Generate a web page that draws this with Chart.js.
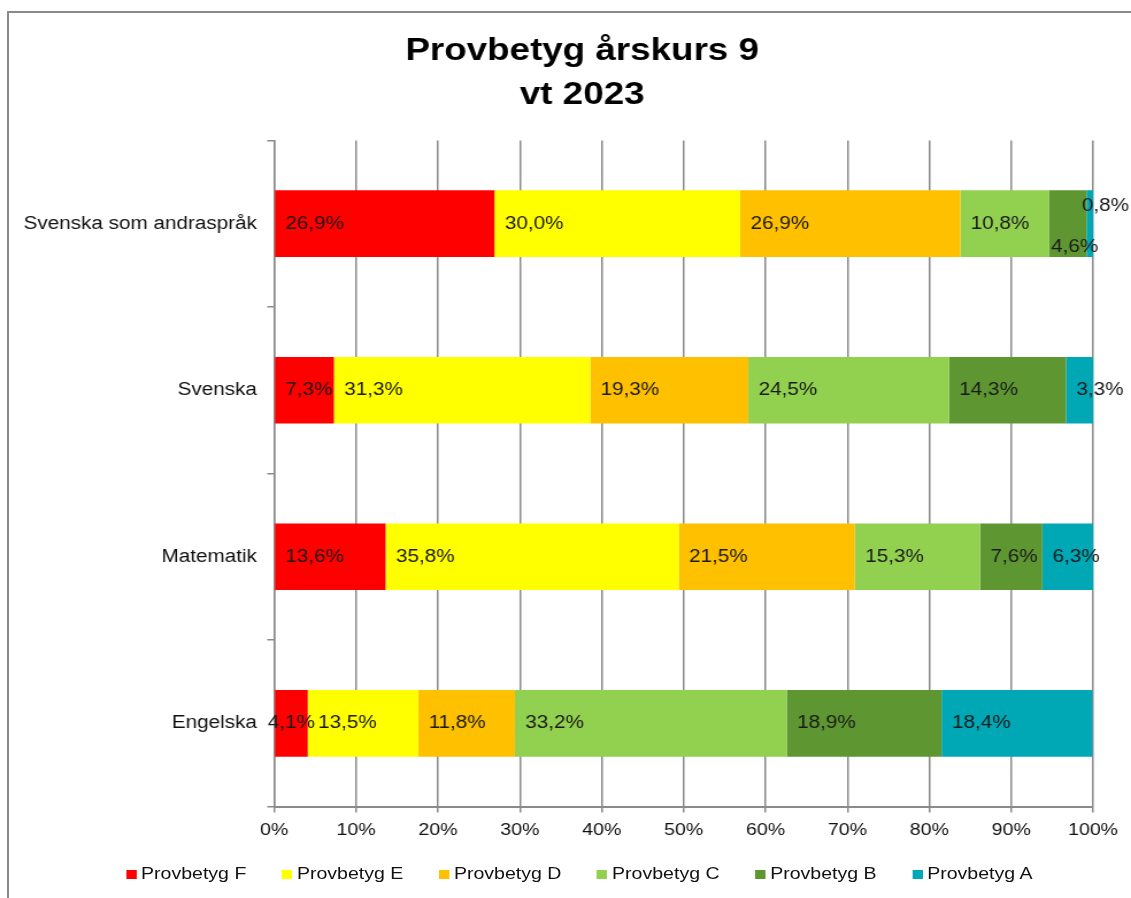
<!DOCTYPE html>
<html lang="sv">
<head>
<meta charset="utf-8">
<title>Provbetyg årskurs 9 vt 2023</title>
<script src="https://cdn.jsdelivr.net/npm/chart.js@4/dist/chart.umd.min.js"></script>
<style>
  html, body { margin: 0; padding: 0; background: #fff; overflow: hidden; }
  #frame {
    position: absolute; left: 7px; top: 11px; width: 1300px; height: 1000px;
    border-left: 2px solid #8a8a8a; border-top: 2px solid #8a8a8a;
  }
  /* the source picture is stretched sideways, so the whole chart is too */
  #wrap {
    position: absolute; left: 0; top: 0; width: 984px; height: 898px;
    transform-origin: 0 0; transform: scaleX(1.1494);
  }
  #chart { display: block; }
  #legend {
    position: absolute; left: 0; top: 864px; width: 984px; box-sizing: border-box;
    padding-left: 24px; display: flex; justify-content: center; gap: 31px;
    font: 17px "Liberation Sans", Arial, sans-serif; color: #111; line-height: 20px;
  }
  .item { display: flex; align-items: center; white-space: nowrap; }
  .swatch { width: 9px; height: 9px; margin-right: 4px; }
</style>
</head>
<body>
<div id="frame"></div>
<div id="wrap">
  <canvas id="chart" width="984" height="898"></canvas>
  <div id="legend"></div>
</div>
<script>
const subjects = ['Svenska som andraspråk', 'Svenska', 'Matematik', 'Engelska'];
const grades = ['Provbetyg F', 'Provbetyg E', 'Provbetyg D', 'Provbetyg C', 'Provbetyg B', 'Provbetyg A'];
const gradeColors = ['#ff0000', '#ffff00', '#ffc000', '#92d050', '#5e9732', '#00a8b6'];

// share of pupils per grade, in %
const gradeF = [26.9, 7.3, 13.6, 4.1];
const gradeE = [30.0, 31.3, 35.8, 13.5];
const gradeD = [26.9, 19.3, 21.5, 11.8];
const gradeC = [10.8, 24.5, 15.3, 33.2];
const gradeB = [4.6, 14.3, 7.6, 18.9];
const gradeA = [0.8, 3.3, 6.3, 18.4];
const series = [gradeF, gradeE, gradeD, gradeC, gradeB, gradeA];

const fontFamily = '"Liberation Sans", Arial, sans-serif';

// value labels, written from the start of each segment like in the source
const barLabels = {
  id: 'barLabels',
  afterDatasetsDraw(chart) {
    const {ctx} = chart;
    const metas = chart.getSortedVisibleDatasetMetas();
    ctx.save();
    ctx.font = '18px ' + fontFamily;
    ctx.fillStyle = '#1a1a1a';
    ctx.textBaseline = 'middle';
    ctx.textAlign = 'left';

    chart.data.labels.forEach((lbl, i) => {
      let prevBelow = false;
      metas.forEach((meta, k) => {
        const bar = meta.data[i];
        const value = chart.data.datasets[meta.index].data[i];
        const text = value.toFixed(1).replace('.', ',') + '%';
        const w = ctx.measureText(text).width;
        const segW = bar.x - bar.base;
        const next = metas[k + 1] && metas[k + 1].data[i];
        const nextNarrow = next && (next.x - next.base) < w;
        let x = bar.base + 9;
        let y = bar.y;

        if (prevBelow) {
          // second of two thin segments: label sits high
          x = bar.base - 4;
          y = bar.y - bar.height * 0.26;
          prevBelow = false;
        } else if (segW < w && nextNarrow) {
          // first of two thin segments: label sits low
          x = bar.base + 2;
          y = bar.y + bar.height * 0.35;
          prevBelow = true;
        } else if (segW < w && k === 0) {
          // thin first segment: centre the label on it
          x = (bar.base + bar.x - w) / 2;
        }
        ctx.fillText(text, x, y);
      });
    });
    ctx.restore();
  }
};

// let the long category names run left past the padding without being clipped
const yLabelRoom = {
  id: 'yLabelRoom',
  afterLayout(chart) {
    chart.scales.y.left = 0;
  }
};

new Chart(document.getElementById('chart'), {
  type: 'bar',
  data: {
    labels: subjects,
    datasets: series.map((values, i) => ({
      label: grades[i],
      data: values,
      backgroundColor: gradeColors[i],
      borderWidth: 0,
      barPercentage: 0.4,
      categoryPercentage: 1
    }))
  },
  options: {
    indexAxis: 'y',
    responsive: false,
    animation: false,
    devicePixelRatio: 1,
    layout: {
      padding: {left: 62, right: 33, top: 12, bottom: 49}
    },
    plugins: {
      legend: {display: false},
      tooltip: {enabled: false},
      title: {
        display: true,
        text: ['Provbetyg årskurs 9', 'vt 2023'],
        color: '#000',
        font: {family: fontFamily, size: 32, weight: 'bold', lineHeight: 1.35},
        padding: {top: 18, bottom: 24}
      }
    },
    scales: {
      x: {
        stacked: true,
        min: 0,
        max: 100,
        ticks: {
          stepSize: 10,
          callback: v => v + '%',
          color: '#111',
          font: {family: fontFamily, size: 17},
          padding: 8
        },
        grid: {color: '#8a8a8a', lineWidth: 1.5, tickLength: 6},
        border: {color: '#8a8a8a', width: 2}
      },
      y: {
        stacked: true,
        ticks: {color: '#111', font: {family: fontFamily, size: 18}, padding: 9},
        grid: {offset: true, drawOnChartArea: false, tickLength: 6, color: '#8a8a8a', lineWidth: 1.5},
        border: {color: '#8a8a8a', width: 1.5},
        afterFit(scale) {
          scale.width = 176.5;
        }
      }
    }
  },
  plugins: [barLabels, yLabelRoom]
});

// legend below the plot
const legendBox = document.getElementById('legend');
grades.forEach((name, i) => {
  const item = document.createElement('span');
  item.className = 'item';
  const sw = document.createElement('span');
  sw.className = 'swatch';
  sw.style.background = gradeColors[i];
  item.appendChild(sw);
  item.appendChild(document.createTextNode(name));
  legendBox.appendChild(item);
});
</script>
</body>
</html>
